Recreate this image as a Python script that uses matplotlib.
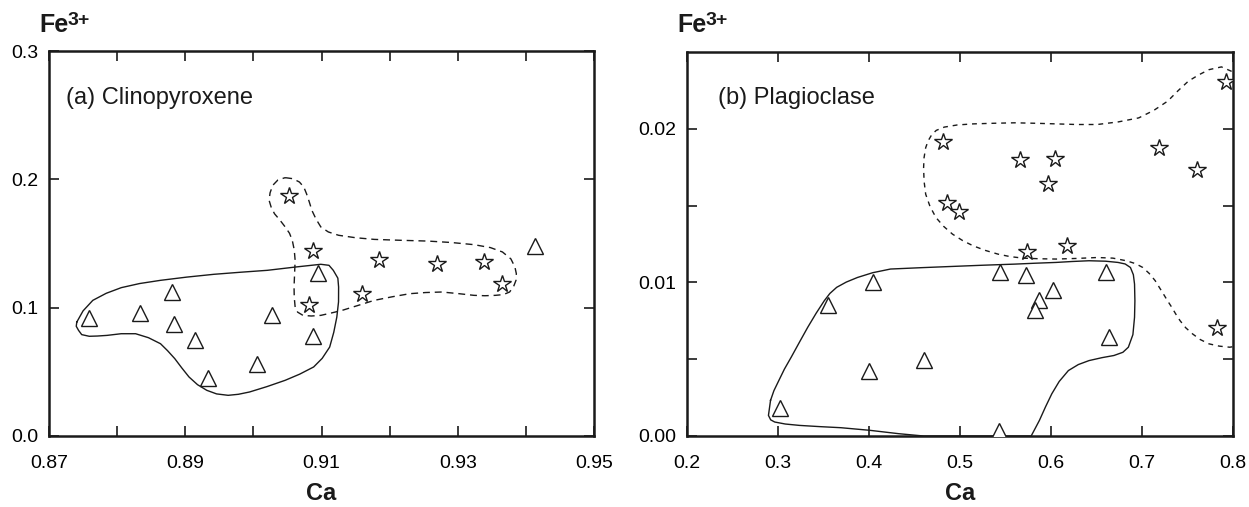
import matplotlib
matplotlib.use('Agg')
import matplotlib.pyplot as plt
import numpy as np

plt.rcParams['font.family'] = ['Liberation Sans', 'DejaVu Sans']

# ---- (a) clinopyroxene ----
cpx_tri_ca = [0.8759, 0.8833, 0.8881, 0.8884, 0.8914, 0.8934, 0.9006, 0.9028, 0.9088, 0.9095, 0.9414]
cpx_tri_fe = [0.0919, 0.0961, 0.1122, 0.0875, 0.0751, 0.0455, 0.0558, 0.0945, 0.0782, 0.1273, 0.1478]
cpx_star_ca = [0.9052, 0.9087, 0.9082, 0.9160, 0.9184, 0.9269, 0.9339, 0.9365]
cpx_star_fe = [0.1870, 0.1442, 0.1018, 0.1109, 0.1374, 0.1338, 0.1356, 0.1187]

cpx_solid_ca = [0.87408, 0.87500, 0.87643, 0.87840, 0.88061, 0.88330, 0.88637, 0.89020, 0.89421,
                0.89810, 0.90205, 0.90624, 0.90990, 0.91110, 0.91173, 0.91240, 0.91251, 0.91250,
                0.91225, 0.91180, 0.91120, 0.91010, 0.90885, 0.90680, 0.90467, 0.90200, 0.89944,
                0.89780, 0.89630, 0.89460, 0.89316, 0.89180, 0.89055, 0.88950, 0.88846, 0.88740,
                0.88637, 0.88460, 0.88271, 0.88060, 0.87852, 0.87710, 0.87591, 0.87480, 0.87434,
                0.87400, 0.87408]
cpx_solid_fe = [0.0888, 0.0975, 0.1057, 0.1112, 0.1156, 0.1188, 0.1213, 0.1238, 0.1260,
                0.1276, 0.1291, 0.1317, 0.1338, 0.1330, 0.1291, 0.1230, 0.1161, 0.1045,
                0.0927, 0.0808, 0.0693, 0.0605, 0.0538, 0.0482, 0.0434, 0.0385, 0.0343,
                0.0325, 0.0317, 0.0328, 0.0356, 0.0400, 0.0460, 0.0530, 0.0603, 0.0665,
                0.0719, 0.0766, 0.0797, 0.0797, 0.0784, 0.0779, 0.0777, 0.0790, 0.0823,
                0.0855, 0.0888]

cpx_dash_ca = [0.90467, 0.90580, 0.90676, 0.90740, 0.90780, 0.90820, 0.90859, 0.90920, 0.90990,
               0.91100, 0.91251, 0.91500, 0.91774, 0.92160, 0.92558, 0.92900, 0.93238, 0.93480,
               0.93656, 0.93780, 0.93839, 0.93860, 0.93855, 0.93820, 0.93761, 0.93670, 0.93552,
               0.93400, 0.93238, 0.93000, 0.92767, 0.92530, 0.92297, 0.92040, 0.91774, 0.91540,
               0.91303, 0.91140, 0.90990, 0.90850, 0.90728, 0.90650, 0.90613, 0.90600, 0.90597,
               0.90605, 0.90613, 0.90600, 0.90571, 0.90530, 0.90467, 0.90390, 0.90310, 0.90260,
               0.90231, 0.90245, 0.90284, 0.90360, 0.90467]
cpx_dash_fe = [0.2013, 0.2005, 0.1979, 0.1940, 0.1888, 0.1825, 0.1758, 0.1690, 0.1629,
               0.1590, 0.1564, 0.1545, 0.1532, 0.1525, 0.1519, 0.1508, 0.1491, 0.1468,
               0.1434, 0.1380, 0.1317, 0.1265, 0.1213, 0.1165, 0.1122, 0.1102, 0.1096,
               0.1093, 0.1096, 0.1110, 0.1122, 0.1118, 0.1109, 0.1085, 0.1057, 0.1018,
               0.0979, 0.0958, 0.0940, 0.0935, 0.0940, 0.0965, 0.1005, 0.1080, 0.1161,
               0.1265, 0.1369, 0.1450, 0.1525, 0.1580, 0.1629, 0.1682, 0.1732, 0.1785,
               0.1836, 0.1895, 0.1953, 0.1995, 0.2013]

# ---- (b) plagioclase ----
pl_tri_ca = [0.3018, 0.3545, 0.4041, 0.4000, 0.4609, 0.5427, 0.5445, 0.5727, 0.5864, 0.5827, 0.6027, 0.6600, 0.6636]
pl_tri_fe = [0.00184, 0.00855, 0.01000, 0.00426, 0.00498, 0.00032, 0.01065, 0.01048, 0.00887, 0.00823, 0.00950, 0.01065, 0.00647]
pl_star_ca = [0.4809, 0.4855, 0.4991, 0.5655, 0.6045, 0.5964, 0.5736, 0.6173, 0.7182, 0.7609, 0.7918, 0.7827]
pl_star_fe = [0.01913, 0.01515, 0.01459, 0.01794, 0.01803, 0.01639, 0.01195, 0.01234, 0.01872, 0.01732, 0.02303, 0.00703]

pl_solid_ca = [0.2918, 0.2895, 0.2920, 0.2964, 0.3080, 0.3236, 0.3460, 0.3691, 0.4009, 0.4327,
               0.4600, 0.5200, 0.5782, 0.5825, 0.5873, 0.5940, 0.6009, 0.6090, 0.6191, 0.6300,
               0.6418, 0.6560, 0.6691, 0.6790, 0.6850, 0.6900, 0.6918, 0.6922, 0.6918, 0.6905,
               0.6873, 0.6815, 0.6736, 0.6600, 0.6418, 0.6230, 0.6055, 0.5830, 0.5600, 0.5260,
               0.4918, 0.4580, 0.4236, 0.4040, 0.3873, 0.3750, 0.3645, 0.3570, 0.3509, 0.3420,
               0.3327, 0.3235, 0.3145, 0.3070, 0.3009, 0.2955, 0.2918]
pl_solid_fe = [0.00232, 0.00134, 0.00105, 0.00091, 0.00078, 0.00069, 0.00061, 0.00054, 0.00037, 0.00015,
               0.00000, 0.00000, 0.00000, 0.00048, 0.00102, 0.00190, 0.00275, 0.00355, 0.00426, 0.00465,
               0.00491, 0.00510, 0.00524, 0.00545, 0.00578, 0.00660, 0.00773, 0.00880, 0.00989, 0.01050,
               0.01097, 0.01120, 0.01130, 0.01138, 0.01141, 0.01136, 0.01130, 0.01125, 0.01119, 0.01112,
               0.01104, 0.01096, 0.01087, 0.01063, 0.01032, 0.01002, 0.00968, 0.00928, 0.00881, 0.00800,
               0.00708, 0.00610, 0.00513, 0.00435, 0.00361, 0.00295, 0.00232]

pl_dash_ca = [0.8077, 0.8000, 0.7873, 0.7736, 0.7620, 0.7509, 0.7400, 0.7282, 0.7130, 0.6964,
              0.6740, 0.6509, 0.6280, 0.6055, 0.5830, 0.5600, 0.5370, 0.5145, 0.4970, 0.4827,
              0.4740, 0.4691, 0.4650, 0.4623, 0.4605, 0.4600, 0.4605, 0.4623, 0.4670, 0.4736,
              0.4820, 0.4918, 0.5030, 0.5145, 0.5280, 0.5418, 0.5550, 0.5691, 0.5870, 0.6055,
              0.6280, 0.6509, 0.6680, 0.6827, 0.6930, 0.7009, 0.7080, 0.7145, 0.7190, 0.7236,
              0.7280, 0.7327, 0.7370, 0.7418, 0.7480, 0.7555, 0.7640, 0.7736, 0.7850, 0.7964,
              0.8077]
pl_dash_fe = [0.02342, 0.02370, 0.02403, 0.02385, 0.02350, 0.02310, 0.02250, 0.02180, 0.02120, 0.02071,
              0.02045, 0.02028, 0.02028, 0.02032, 0.02036, 0.02039, 0.02036, 0.02032, 0.02025, 0.02011,
              0.01990, 0.01963, 0.01922, 0.01877, 0.01812, 0.01747, 0.01660, 0.01574, 0.01495, 0.01422,
              0.01365, 0.01314, 0.01272, 0.01238, 0.01208, 0.01184, 0.01168, 0.01158, 0.01154, 0.01152,
              0.01156, 0.01162, 0.01158, 0.01141, 0.01122, 0.01097, 0.01058, 0.01011, 0.00968, 0.00924,
              0.00881, 0.00838, 0.00795, 0.00751, 0.00705, 0.00665, 0.00628, 0.00600, 0.00585, 0.00578,
              0.00589]

INK = '#1a1a1a'

fig = plt.figure(figsize=(12.49, 5.07), dpi=100)
ax_a = fig.add_axes([49 / 1249, 71 / 507, 545 / 1249, 385 / 507])
ax_b = fig.add_axes([687 / 1249, 71 / 507, 546 / 1249, 384 / 507])


def style_axes(ax):
    for s in ax.spines.values():
        s.set_linewidth(1.8)
        s.set_color(INK)
    ax.tick_params(which='both', direction='in', top=True, right=True,
                   length=7, width=1.2, color=INK, labelsize=14)
    ax.tick_params(axis='x', which='both', pad=14)
    ax.tick_params(axis='y', which='both', pad=8)


def draw_markers(ax, tx, ty, sx, sy):
    ax.plot(tx, ty, ls='none', marker='^', ms=11, mfc='white', mec=INK, mew=1.0, zorder=4)
    ax.plot(sx, sy, ls='none', marker='*', ms=13, mfc='white', mec=INK, mew=1.0, zorder=4)


# panel (a)
ax_a.plot(cpx_solid_ca, cpx_solid_fe, color=INK, lw=1.0, zorder=2)
ax_a.plot(cpx_dash_ca, cpx_dash_fe, color=INK, lw=1.0, ls=(0, (5, 3.5)), zorder=2)
draw_markers(ax_a, cpx_tri_ca, cpx_tri_fe, cpx_star_ca, cpx_star_fe)
ax_a.set_xlim(0.87, 0.95)
ax_a.set_ylim(0.0, 0.3)
ax_a.set_xticks([0.87, 0.89, 0.91, 0.93, 0.95])
ax_a.set_xticklabels(['0.87', '0.89', '0.91', '0.93', '0.95'])
ax_a.set_xticks([0.88, 0.90, 0.92, 0.94], minor=True)
ax_a.set_yticks([0.0, 0.1, 0.2, 0.3])
ax_a.set_yticklabels(['0.0', '0.1', '0.2', '0.3'])
style_axes(ax_a)
ax_a.text(0.031, 0.878, '(a) Clinopyroxene', transform=ax_a.transAxes,
          fontsize=17, va='center', ha='left', color=INK)

# panel (b)
ax_b.plot(pl_solid_ca, pl_solid_fe, color=INK, lw=1.0, zorder=2)
ax_b.plot(pl_dash_ca, pl_dash_fe, color=INK, lw=1.0, ls=(0, (3.5, 3.5)), zorder=2)
draw_markers(ax_b, pl_tri_ca, pl_tri_fe, pl_star_ca, pl_star_fe)
ax_b.set_xlim(0.2, 0.8)
ax_b.set_ylim(0.0, 0.025)
ax_b.set_xticks([0.2, 0.3, 0.4, 0.5, 0.6, 0.7, 0.8])
ax_b.set_xticklabels(['0.2', '0.3', '0.4', '0.5', '0.6', '0.7', '0.8'])
ax_b.set_yticks([0.0, 0.01, 0.02])
ax_b.set_yticklabels(['0.00', '0.01', '0.02'])
ax_b.set_yticks([0.005, 0.015], minor=True)
style_axes(ax_b)
ax_b.text(0.057, 0.88, '(b) Plagioclase', transform=ax_b.transAxes,
          fontsize=17, va='center', ha='left', color=INK)

# axis titles
for ax, left_px in ((ax_a, 39), (ax_b, 677)):
    ax.text(0.5, -(494 - 436) / 385, 'Ca', transform=ax.transAxes, ha='center', va='center',
            fontsize=17, fontweight='bold', color=INK)
    fig.text(left_px / 1249, (507 - 32) / 507, 'Fe', ha='left', va='baseline',
             fontsize=18, fontweight='bold', color=INK)
    fig.text((left_px + 29) / 1249, (507 - 25) / 507, '3+', ha='left', va='baseline',
             fontsize=14, fontweight='bold', color=INK)

fig.savefig('out.png', dpi=100)
